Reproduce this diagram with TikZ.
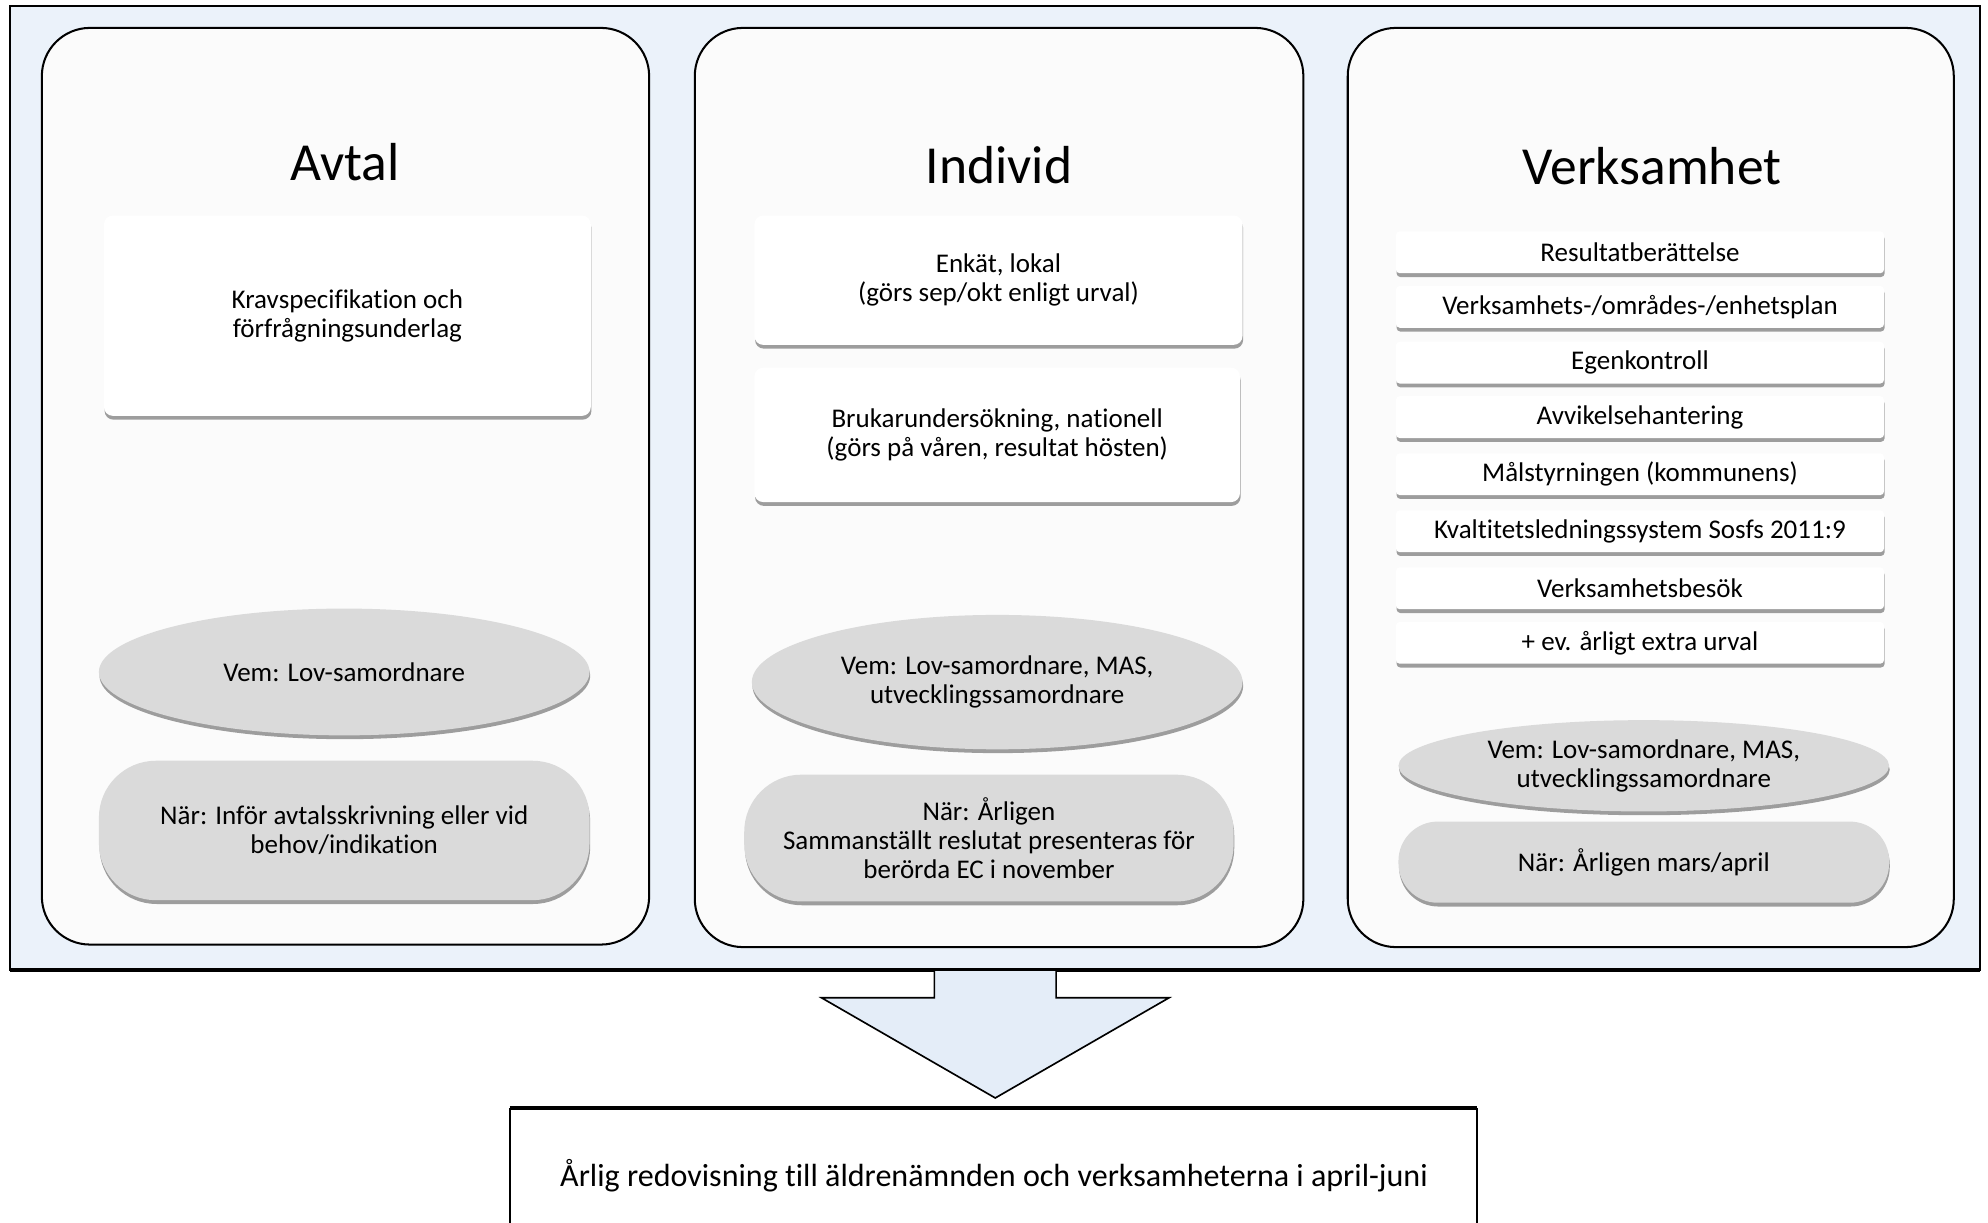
\documentclass[tikz,border=0pt]{standalone}
\usepackage{fontspec}
\setmainfont{Carlito}[Ligatures=NoCommon]
\usetikzlibrary{shapes.geometric,shadows}
\definecolor{framebg}{RGB}{235,242,250}
\definecolor{panelbg}{RGB}{251,251,251}
\definecolor{pillgray}{RGB}{218,218,218}
\definecolor{arrowbg}{RGB}{228,237,248}
\begin{document}
\begin{tikzpicture}[x=1pt,y=-1pt,
  every node/.style={font=\fontsize{21.3}{23}\selectfont, align=center, inner sep=0pt, outer sep=0pt},
  frame/.style={draw=black, line width=1.5pt, fill=framebg},
  panel/.style={draw=black, line width=1.6pt, fill=panelbg, rounded corners=38pt},
  softshadow/.style={drop shadow={shadow xshift=0.5pt, shadow yshift=-3pt, opacity=0.5, fill=black!75}},
  card/.style={fill=white, rounded corners=7pt, softshadow},
  bar/.style={fill=white, rounded corners=3pt, softshadow, minimum width=385pt, minimum height=33pt},
  vem/.style={ellipse, fill=pillgray, softshadow},
  nar/.style={fill=pillgray, softshadow},
  title/.style={font=\fontsize{42.2}{50}\selectfont}]
\useasboundingbox (0,0) rectangle (1568,964.6);
\fill[white] (0,0) rectangle (1568,964.6);

% outer frame
\node[frame, minimum width=1554pt, minimum height=760pt] (frame) at (785,385) {};
\draw[line width=2.6pt] (frame.south west) -- (frame.south east);

% panels
\node[panel, minimum width=479pt, minimum height=723pt] (p1) at (272.5,383.5) {};
\node[panel, minimum width=480pt, minimum height=725pt] (p2) at (788,384.5) {};
\node[panel, minimum width=478pt, minimum height=725pt] (p3) at (1302,384.5) {};

% titles
\node[title] (t1) at (272,128) {Avtal};
\node[title] (t2) at (788,130) {Individ};
\node[title] (t3) at (1303,131) {Verksamhet};

% panel 1
\node[card, minimum width=384pt, minimum height=158pt] (a1) at (274,249) {Kravspecifikation och\\förfrågningsunderlag};
\node[vem, minimum width=387pt, minimum height=100pt] (a2) at (271.5,530) {Vem: Lov-samordnare};
\node[nar, rounded corners=45pt, minimum width=387pt, minimum height=110pt] (a3) at (271.5,655) {När: Inför avtalsskrivning eller vid\\behov/indikation};

% panel 2
\node[card, minimum width=385pt, minimum height=102pt] (b1) at (787.5,221) {Enkät, lokal\\(görs sep/okt enligt urval)};
\node[card, minimum width=383pt, minimum height=106pt] (b2) at (786.5,343) {Brukarundersökning, nationell\\(görs på våren, resultat hösten)};
\node[vem, minimum width=387pt, minimum height=106pt] (b3) at (786.5,538) {Vem: Lov-samordnare, MAS,\\utvecklingssamordnare};
\node[nar, rounded corners=45pt, minimum width=386pt, minimum height=100pt] (b4) at (780,661) {När: Årligen\\Sammanställt reslutat presenteras för\\berörda EC i november};

% panel 3
\node[bar] (c1) at (1293.5,199) {Resultatberättelse};
\node[bar] (c2) at (1293.5,242) {Verksamhets-/områdes-/enhetsplan};
\node[bar] (c3) at (1293.5,286) {Egenkontroll};
\node[bar] (c4) at (1293.5,329) {Avvikelsehantering};
\node[bar] (c5) at (1293.5,374) {Målstyrningen (kommunens)};
\node[bar] (c6) at (1293.5,419) {Kvaltitetsledningssystem Sosfs 2011:9};
\node[bar] (c7) at (1293.5,464) {Verksamhetsbesök};
\node[bar] (c8) at (1293.5,507) {+ ev. årligt extra urval};
\node[vem, minimum width=387pt, minimum height=72pt] (c9) at (1296.5,604) {Vem: Lov-samordnare, MAS,\\utvecklingssamordnare};
\node[nar, rounded corners=31pt, minimum width=387pt, minimum height=64pt] (c10) at (1296.5,680) {När: Årligen mars/april};

% bottom box
\node[fill=white, minimum width=763pt, minimum height=91pt] (res) at (783.5,919.5) {};
\node[font=\fontsize{25.3}{30}\selectfont] (restext) at (784,927) {Årlig redovisning till äldrenämnden och verksamheterna i april-juni};
\draw[line width=1.3pt] (res.south west) -- (res.north west);
\draw[line width=1.3pt] (res.south east) -- (res.north east);
\draw[line width=2.6pt] (res.north west) -- (res.north east);

% block arrow from frame to result box
\coordinate (tip) at (785,866);
\draw[line width=1.3pt, fill=arrowbg, line join=miter]
  (737,766) -- (737,787) -- (648,787) -- (tip) -- (922,787) -- (833,787) -- (833,766);
\end{tikzpicture}
\end{document}
